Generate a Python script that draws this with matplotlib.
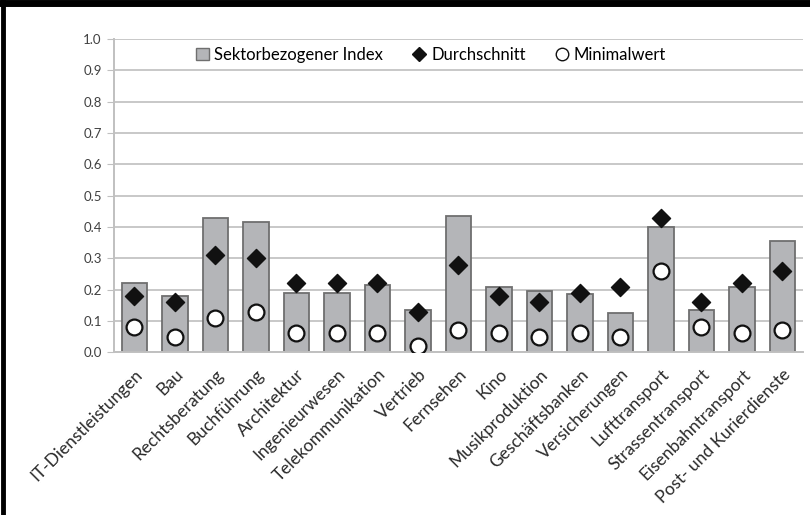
import numpy as np
import matplotlib.pyplot as plt
from matplotlib.lines import Line2D
from matplotlib.patches import Patch

plt.rcParams['font.family'] = ['Lato', 'DejaVu Sans']

# Sectors and values
sectors = ['IT-Dienstleistungen', 'Bau', 'Rechtsberatung', 'Buchführung', 'Architektur',
           'Ingenieurwesen', 'Telekommunikation', 'Vertrieb', 'Fernsehen', 'Kino',
           'Musikproduktion', 'Geschäftsbanken', 'Versicherungen', 'Lufttransport',
           'Strassentransport', 'Eisenbahntransport', 'Post- und Kurierdienste']
sector_index = [0.22, 0.18, 0.43, 0.415, 0.19, 0.19, 0.215, 0.135, 0.435, 0.21,
                0.195, 0.185, 0.125, 0.40, 0.135, 0.21, 0.355]
average = [0.18, 0.16, 0.31, 0.30, 0.22, 0.22, 0.22, 0.13, 0.28, 0.18,
           0.16, 0.19, 0.21, 0.43, 0.16, 0.22, 0.26]
minimum = [0.08, 0.05, 0.11, 0.13, 0.06, 0.06, 0.06, 0.02, 0.07, 0.06,
           0.05, 0.06, 0.05, 0.26, 0.08, 0.06, 0.07]
yticks = np.arange(0, 1.01, 0.1)

fig = plt.figure(figsize=(8.1, 5.15), dpi=100)
ax = fig.add_axes([0.141, 0.316, 0.85, 0.608])

x = np.arange(len(sectors))
ax.bar(x, sector_index, width=0.62, color='#b4b5b8', edgecolor='#6f6f6f', linewidth=1.3, zorder=2)
ax.scatter(x, average, marker='D', s=85, color='#111111', zorder=3)
ax.scatter(x, minimum, marker='o', s=130, facecolor='white', edgecolor='#111111', linewidth=1.6, zorder=3)

ax.set_xlim(-0.5, len(sectors) - 0.5)
ax.set_ylim(0, 1.0)
ax.set_yticks(yticks)
ax.set_yticklabels([f'{v:.1f}' for v in yticks], fontsize=9.5, color='#404040')
ax.grid(axis='y', color='#c8c8c8', linewidth=1.4, zorder=0)
ax.set_axisbelow(True)
for s in ['top', 'right']:
    ax.spines[s].set_visible(False)
ax.spines['left'].set_color('#c0c0c0')
ax.spines['bottom'].set_color('#c0c0c0')
ax.spines['left'].set_linewidth(1.4)
ax.spines['bottom'].set_linewidth(1.4)
ax.tick_params(axis='y', length=5, color='#c0c0c0', pad=4)
ax.tick_params(axis='x', length=0, pad=10)
ax.set_xticks(x)
ax.set_xticklabels(sectors, rotation=45, ha='right', rotation_mode='anchor', fontsize=12.5, color='#2a2a2a')

handles = [Patch(facecolor='#b4b5b8', edgecolor='#6f6f6f', label='Sektorbezogener Index'),
           Line2D([], [], marker='D', color='#111111', linestyle='none', markersize=7, label='Durchschnitt'),
           Line2D([], [], marker='o', markerfacecolor='white', markeredgecolor='#111111', color='none',
                  markersize=9, label='Minimalwert')]
ax.legend(handles=handles, loc='center', bbox_to_anchor=(0.46, 0.95), ncol=3, frameon=False,
          fontsize=12, handlelength=0.8, handletextpad=0.3, columnspacing=1.8)

# page border (top and left)
fig.add_artist(Line2D([0, 1], [0.994, 0.994], color='black', linewidth=5, transform=fig.transFigure))
fig.add_artist(Line2D([0.004, 0.004], [0, 1], color='black', linewidth=3.5, transform=fig.transFigure))

fig.savefig('out.png', dpi=100)
